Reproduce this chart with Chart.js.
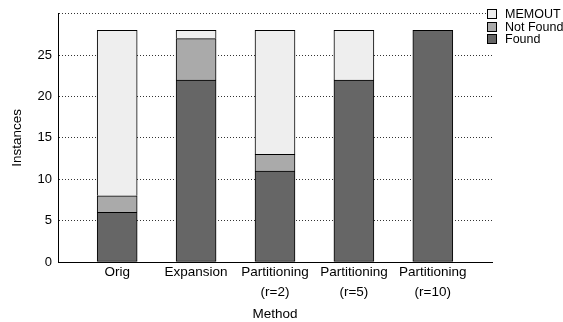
<!DOCTYPE html>
<html>
<head>
<meta charset="utf-8">
<script src="https://cdn.jsdelivr.net/npm/chart.js@4"></script>
<style>
  html, body { margin: 0; padding: 0; background: #fff; }
  #wrap { position: relative; width: 563px; height: 322px; }
  #legend { position: absolute; left: 487px; top: 8px; font: 12.5px "Liberation Sans", Arial, sans-serif; color: #000; }
  .row { height: 12.5px; line-height: 12.5px; white-space: nowrap; display: flex; align-items: center; }
  .box { width: 8px; height: 8px; border: 1px solid #000; margin-right: 8px; }
</style>
</head>
<body>
<div id="wrap">
  <canvas id="c" width="563" height="322"></canvas>
  <div id="legend"></div>
</div>
<script>
const categories = ["Orig", "Expansion", ["Partitioning", "(r=2)"], ["Partitioning", "(r=5)"], ["Partitioning", "(r=10)"]];
const found    = [6, 22, 11, 22, 28];
const notFound = [2, 5, 2, 0, 0];
const memout   = [20, 1, 15, 6, 0];
const yTicks   = [0, 5, 10, 15, 20, 25, 30];
const seriesNames  = ["Found", "Not Found", "MEMOUT"];
const seriesColors = ["#666666", "#aaaaaa", "#eeeeee"];

const FAMILY = '"Liberation Sans", Arial, sans-serif';
const toPts = arr => arr.map((v, i) => ({ x: i, y: v }));
const seriesData = [found, notFound, memout];

const datasets = seriesData.map((d, k) => ({
  label: seriesNames[k],
  data: toPts(d),
  backgroundColor: seriesColors[k],
  borderColor: '#000',
  borderWidth: 1,
  borderSkipped: k === 0 ? false : 'start',
  barThickness: 40
}));

// legend (reverse order, like the reference)
const lg = document.getElementById('legend');
for (let k = seriesNames.length - 1; k >= 0; k--) {
  const r = document.createElement('div'); r.className = 'row';
  const b = document.createElement('div'); b.className = 'box'; b.style.background = seriesColors[k];
  const t = document.createElement('span'); t.textContent = seriesNames[k];
  r.appendChild(b); r.appendChild(t); lg.appendChild(r);
}

new Chart(document.getElementById('c'), {
  type: 'bar',
  data: { datasets },
  options: {
    responsive: false,
    animation: false,
    layout: { padding: { top: 12, right: 71, left: 0, bottom: 0 } },
    plugins: { legend: { display: false }, tooltip: { enabled: false } },
    scales: {
      x: {
        type: 'linear',
        stacked: true,
        offset: false,
        min: -0.75,
        max: 4.75,
        afterBuildTicks: s => { s.ticks = categories.map((_, i) => ({ value: i })); },
        afterFit: s => { s.height = 60; },
        ticks: {
          callback: v => categories[v] !== undefined ? categories[v] : '',
          color: '#000',
          padding: 0,
          maxRotation: 0,
          autoSkip: false,
          font: { family: FAMILY, size: 13.5, lineHeight: '20px' }
        },
        grid: { display: true, color: 'rgba(0,0,0,0)', drawTicks: false, offset: false },
        border: { display: true, color: '#000', width: 1 },
        title: { display: true, text: 'Method', color: '#000', font: { family: FAMILY, size: 13.5, lineHeight: 1.2 }, padding: { top: 0, bottom: 0 } }
      },
      y: {
        stacked: true,
        min: 0,
        max: 30,
        afterBuildTicks: s => { s.ticks = yTicks.map(v => ({ value: v })); },
        afterFit: s => { s.width = 58; },
        ticks: {
          callback: v => v === 30 ? '' : String(v),
          color: '#000',
          padding: 6,
          font: { family: FAMILY, size: 13 }
        },
        grid: { color: '#333', lineWidth: 1, drawTicks: false },
        border: { display: true, color: '#000', width: 1, dash: [1, 2] },
        title: { display: true, text: 'Instances', color: '#000', font: { family: FAMILY, size: 13.5, lineHeight: 1.2 }, padding: { top: 9, bottom: 0 } }
      }
    }
  }
});
</script>
</body>
</html>
